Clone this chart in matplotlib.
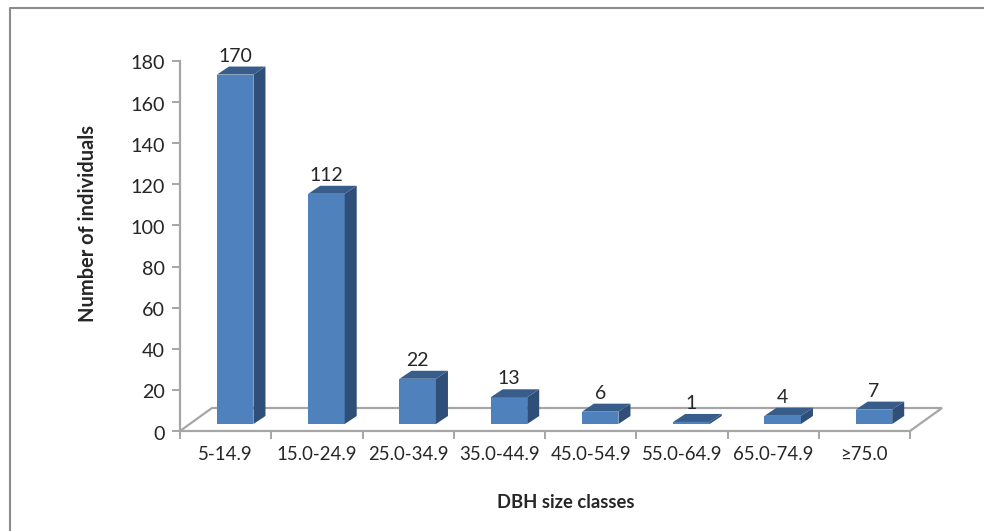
import matplotlib
matplotlib.use("Agg")
import matplotlib.pyplot as plt
from matplotlib.patches import Polygon
from matplotlib.transforms import ScaledTranslation

W, H = 984, 531

categories = ["5-14.9", "15.0-24.9", "25.0-34.9", "35.0-44.9",
              "45.0-54.9", "55.0-64.9", "65.0-74.9", "≥75.0"]
counts = [170, 112, 22, 13, 6, 1, 4, 7]
yticks = list(range(0, 181, 20))

FRONT = "#4F81BD"
SIDE = "#2F4F78"
TOP = "#385D8A"
GRID = "#A6A6A6"
TEXT = "#262626"

plt.rcParams["font.family"] = ["Lato", "DejaVu Sans"]

fig = plt.figure(figsize=(W / 100, H / 100), dpi=100)
# axes box runs from the front floor corner to the top of the y axis
ax = fig.add_axes([180 / W, 1 - 431 / H, 730 / W, 370 / H])
ax.set_xlim(0, 8)
ax.set_ylim(0, 180)

# fake 3d depth, in data units
xpx = 730 / 8
ypx = 370 / 180
dx = 12 / xpx
dy = 8 / ypx
base = 7 / ypx
floor_dx = 32 / xpx
floor_dy = 23 / ypx

# floor outline
ax.plot([0, floor_dx, 8 + floor_dx, 8],
        [0, floor_dy, floor_dy, 0],
        color=GRID, lw=1.6, clip_on=False, zorder=1, solid_joinstyle="miter")

bar_left = 0.405
bar_w = 0.40
for i, v in enumerate(counts):
    x0 = i + bar_left
    x1 = x0 + bar_w
    y1 = base + v
    ax.bar(x0, v, width=bar_w, bottom=base, align="edge", color=FRONT,
           zorder=3, clip_on=False)
    ax.add_patch(Polygon([(x1, base), (x1 + dx, base + dy), (x1 + dx, y1 + dy), (x1, y1)],
                         closed=True, fc=SIDE, ec="none", zorder=3, clip_on=False))
    ax.add_patch(Polygon([(x0, y1), (x0 + dx, y1 + dy), (x1 + dx, y1 + dy), (x1, y1)],
                         closed=True, fc=TOP, ec="none", zorder=3, clip_on=False))
    ax.text(x0 + bar_w / 2, y1 + dy + 10.5 / ypx, str(v), ha="center", va="center",
            fontsize=14, color=TEXT, clip_on=False, zorder=4)

ax.set_xticks(range(9))
ax.set_xticklabels([])
ax.set_yticks(yticks)
for i, name in enumerate(categories):
    ax.text(i + 0.5, -24 / 370, name, ha="center", va="center", fontsize=13.4, color=TEXT,
            transform=ax.get_xaxis_transform(), clip_on=False)

ax.tick_params(axis="both", color=GRID, width=1.4, length=6, direction="out")
ax.tick_params(axis="y", labelcolor=TEXT, labelsize=14.2, pad=5)
# nudge the y tick labels down a little
shift = ScaledTranslation(0, -1.5 / 100, fig.dpi_scale_trans)
for label in ax.get_yticklabels():
    label.set_transform(label.get_transform() + shift)
for s in ("top", "right"):
    ax.spines[s].set_visible(False)
for s in ("left", "bottom"):
    ax.spines[s].set_color(GRID)
    ax.spines[s].set_linewidth(1.6)

fig.text(88.5 / W, 1 - 224 / H, "Number of individuals", rotation=90, ha="center",
         va="center", fontsize=14.4, fontweight="bold", color=TEXT)
fig.text(566 / W, 1 - 503 / H, "DBH size classes", ha="center", va="center",
         fontsize=13.2, fontweight="bold", color=TEXT)

# chart frame
fig.add_artist(plt.Line2D([10 / W, 10 / W, 1], [0, 1 - 8 / H, 1 - 8 / H],
                          color="#8C8C8C", lw=1.5))

fig.savefig("out.png", dpi=100)
